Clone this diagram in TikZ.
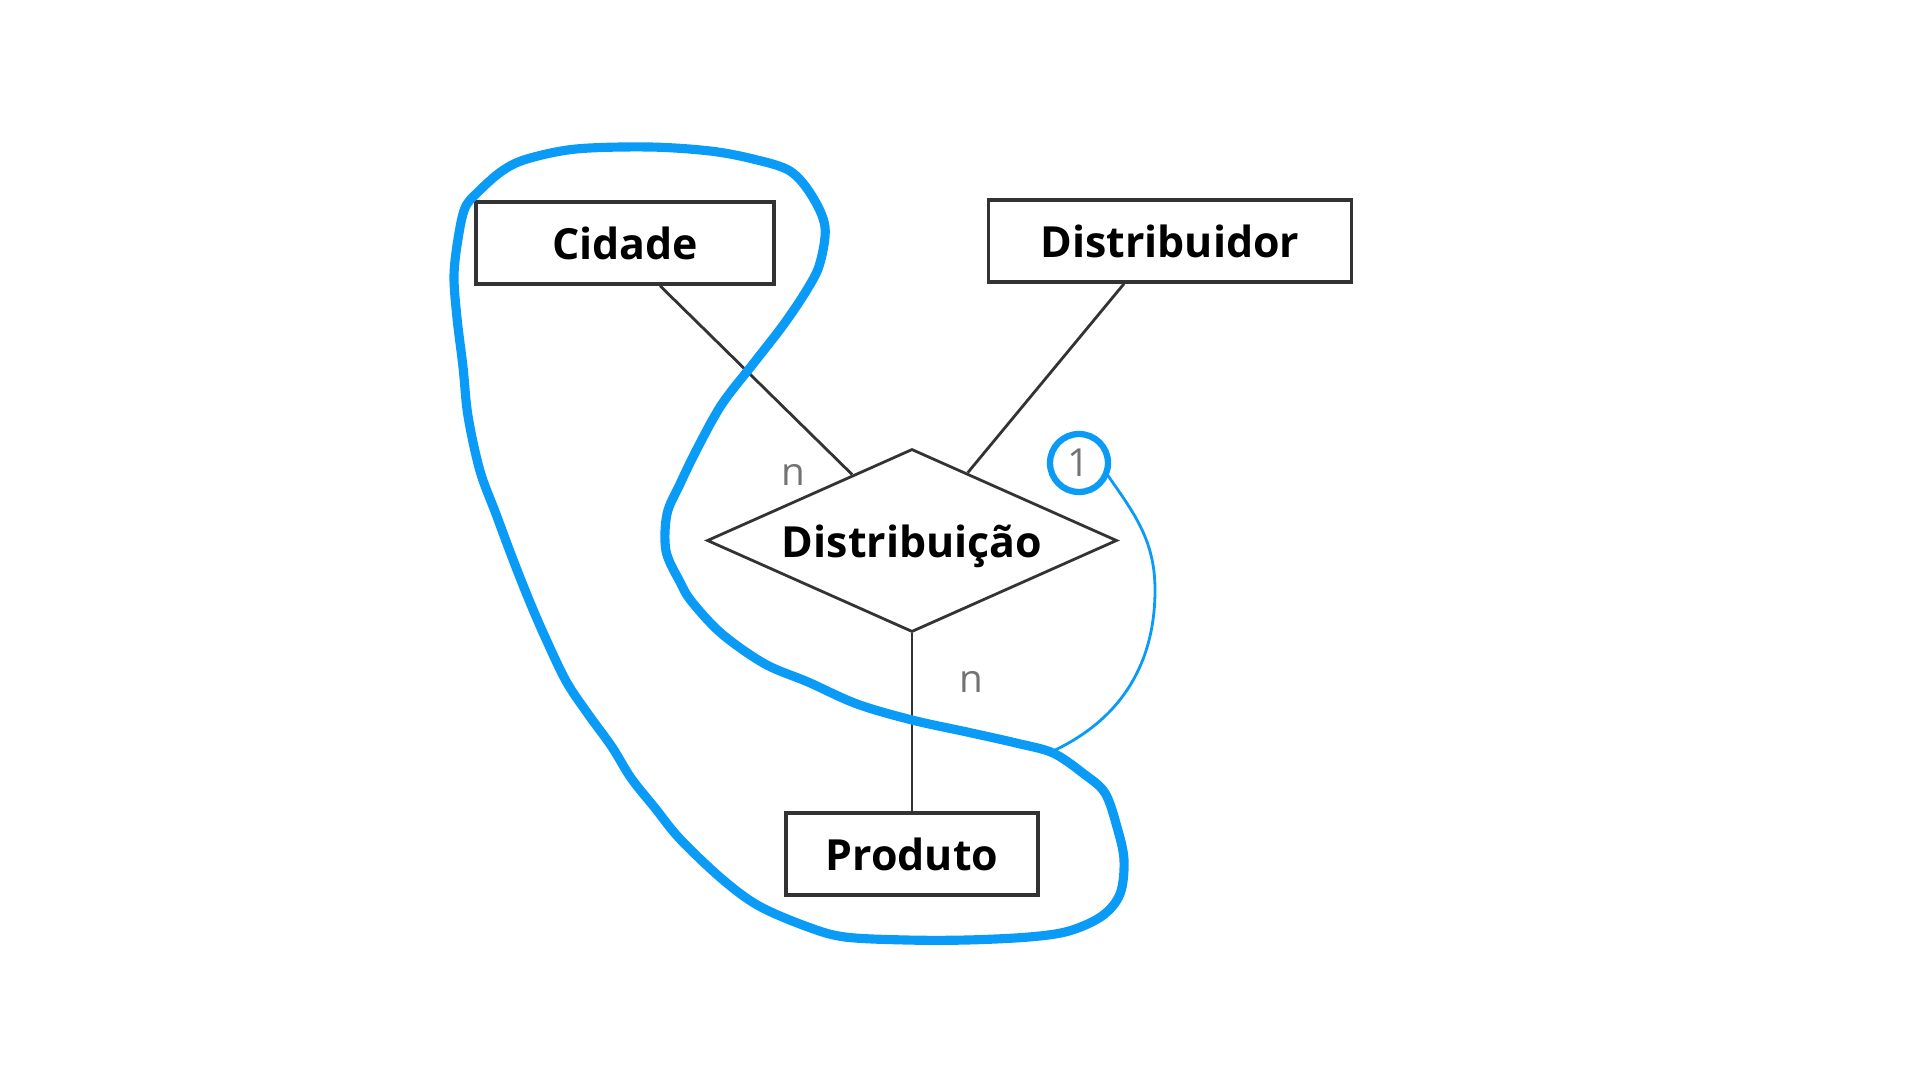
\documentclass[tikz,border=0pt]{standalone}
\usepackage{fontspec}
\setmainfont{Open Sans}
\usetikzlibrary{positioning,calc,shapes.geometric}
\definecolor{erblue}{HTML}{0A9BF7}
\definecolor{erline}{HTML}{333333}
\tikzset{
  entity/.style={draw=erline, line width=1pt, fill=white, minimum height=8.2mm,
    inner sep=0pt, font=\fontsize{12.2}{15}\selectfont\bfseries},
  relation/.style={diamond, draw=erline, line width=0.8pt, fill=white, aspect=2.24,
    minimum width=41mm, minimum height=18.3mm, inner sep=0pt,
    text height=4.3mm, text depth=1mm,
    font=\fontsize{12.2}{15}\selectfont\bfseries},
  link/.style={draw=erline, line width=0.8pt},
  card/.style={font=\fontsize{11}{13}\selectfont, text=black!55, inner sep=1pt},
  markup/.style={draw=erblue, line width=2.6pt, line join=round, line cap=round},
  markthin/.style={draw=erblue, line width=0.8pt}
}

\begin{document}
\begin{tikzpicture}
                \useasboundingbox (0,0) rectangle (19.2,-10.8);
                % entities and relationship
                \node[entity, minimum width=29.8mm] (cidade) at (6.25,-2.43) {Cidade};
                \node[entity, minimum width=36.3mm] (distrib) at (11.70,-2.41) {Distribuidor};
                \node[relation] (distr) at (9.12,-5.405) {Distribuição};
                \node[entity, minimum width=25.2mm] (produto) at (9.12,-8.54) {Produto};
                \draw[link] ([xshift=3.5mm]cidade.south) -- ($(distr.west)!0.71!(distr.north)$);
                \draw[link] ([xshift=-4.6mm]distrib.south) -- ($(distr.north)!0.27!(distr.east)$);
                \draw[link] (distr.south) -- (produto.north);
                % cardinalities
                \node[card] (ncid) at (7.93,-4.75) {n};
                \node[card] (nprod) at (9.71,-6.82) {n};
                \node[card, circle, minimum size=5.6mm] (one) at (10.79,-4.63) {1};
                \draw[markup, line width=1.8pt] (one) circle (2.9mm);
                % hand-drawn markup
                \coordinate (touch) at (10.53,-7.51);
                \draw[markup] plot[smooth cycle, tension=0.55] coordinates {
                  (5.27,-1.59) (5.76,-1.49) (6.49,-1.47) (7.10,-1.51) (7.53,-1.59)
                  (7.90,-1.71) (8.12,-1.96) (8.25,-2.27) (8.20,-2.63) (8.08,-2.88)
                  (7.84,-3.24) (7.53,-3.64) (7.22,-4.04) (6.98,-4.47) (6.80,-4.84)
                  (6.67,-5.14) (6.66,-5.51) (6.80,-5.82) (6.92,-6.02) (7.22,-6.34)
                  (7.65,-6.64) (8.08,-6.82) (8.57,-7.04) (9.12,-7.20) (9.67,-7.32)
                  (10.16,-7.43) (10.53,-7.53) (10.84,-7.74) (11.05,-7.93) (11.17,-8.27)
                  (11.24,-8.60) (11.20,-8.94) (11.02,-9.16) (10.69,-9.31) (10.29,-9.37)
                  (9.67,-9.40) (9.06,-9.40) (8.45,-9.37) (8.08,-9.27) (7.59,-9.06)
                  (7.22,-8.79) (6.80,-8.39) (6.55,-8.08) (6.31,-7.78) (6.12,-7.47)
                  (5.88,-7.14) (5.66,-6.81) (5.45,-6.37) (5.29,-6.00) (5.12,-5.57)
                  (4.96,-5.14) (4.80,-4.71) (4.68,-4.16) (4.63,-3.67) (4.57,-3.18)
                  (4.54,-2.76) (4.58,-2.39) (4.65,-2.08) (4.78,-1.92) (5.02,-1.71)};
                \draw[markthin] (one.-20) to[out=-55, in=90] (11.55,-5.9)
                  to[out=-90, in=25] (touch);
            \end{tikzpicture}
\end{document}
